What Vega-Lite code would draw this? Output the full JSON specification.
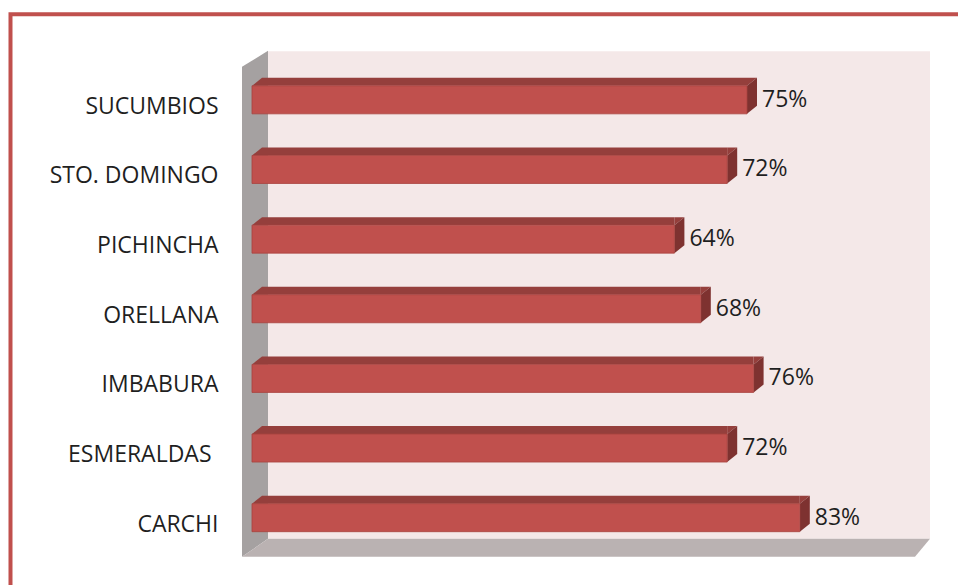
{
  "$schema": "https://vega.github.io/schema/vega-lite/v6.json",
  "width": 958,
  "height": 585,
  "padding": 0,
  "autosize": {"type": "none"},
  "background": "white",
  "config": {"view": {"stroke": null}},
  "data": {
    "values": [
      {"provincia": "SUCUMBIOS", "valor": 0.75},
      {"provincia": "STO. DOMINGO", "valor": 0.72},
      {"provincia": "PICHINCHA", "valor": 0.64},
      {"provincia": "ORELLANA", "valor": 0.68},
      {"provincia": "IMBABURA", "valor": 0.76},
      {"provincia": "ESMERALDAS", "valor": 0.72},
      {"provincia": "CARCHI", "valor": 0.83}
    ]
  },
  "layer": [
    {
      "data": {"values": [{}]},
      "mark": {"type": "point", "shape": "M16,-48.5 L678,-48.5 L678,439 L16,439 Z", "size": 4, "filled": true, "color": "#F4E8E8", "opacity": 1, "strokeWidth": 0},
      "encoding": {
        "x": {"datum": 0, "type": "quantitative", "scale": {"domain": [-0.381818, 1.069697], "nice": false, "zero": false}, "axis": null},
        "y": {"datum": "SUCUMBIOS", "type": "nominal", "scale": {"type": "band", "domain": ["SUCUMBIOS", "STO. DOMINGO", "PICHINCHA", "ORELLANA", "IMBABURA", "ESMERALDAS", "CARCHI"], "paddingInner": 0.6, "paddingOuter": 1.01875, "align": 0.6168}, "title": null}
      }
    },
    {
      "data": {"values": [{}]},
      "mark": {"type": "point", "shape": "M-10,-33 L16,-49 L16,439 L-10,457 Z", "size": 4, "filled": true, "color": "#A5A1A1", "opacity": 1, "strokeWidth": 0},
      "encoding": {
        "x": {"datum": 0, "type": "quantitative"},
        "y": {"datum": "SUCUMBIOS", "type": "nominal", "title": null}
      }
    },
    {
      "data": {"values": [{}]},
      "mark": {"type": "point", "shape": "M16,439 L678,439 L663,457 L-10,457 Z", "size": 4, "filled": true, "color": "#BAB2B2", "opacity": 1, "strokeWidth": 0},
      "encoding": {
        "x": {"datum": 0, "type": "quantitative"},
        "y": {"datum": "SUCUMBIOS", "type": "nominal", "title": null}
      }
    },
    {
      "data": {"values": [{}]},
      "mark": {"type": "point", "shape": "M-243.5,-87.5 L710,-87.5 L710,-83.5 L-239.5,-83.5 L-239.5,490 L-243.5,490 Z", "size": 4, "filled": true, "color": "#C0504D", "opacity": 1, "strokeWidth": 0},
      "encoding": {
        "x": {"datum": 0, "type": "quantitative"},
        "y": {"datum": "SUCUMBIOS", "type": "nominal", "title": null}
      }
    },
    {
      "mark": {"type": "bar", "height": 8, "yOffset": -18, "x2Offset": 10, "color": "#953F3C"},
      "encoding": {
        "x": {"field": "valor", "type": "quantitative"},
        "x2": {"datum": 0},
        "y": {"field": "provincia", "type": "nominal", "title": null, "axis": {"orient": "left", "offset": -228, "domain": false, "ticks": false, "tickSize": 0, "labelPadding": {"condition": {"test": "datum.value === 'ESMERALDAS'", "value": 17}, "value": 10}, "labelFont": "Open Sans", "labelFontSize": 23, "labelColor": "#1F1F1F", "labelLimit": 400, "labelOffset": 7, "grid": false, "title": null}}
      }
    },
    {
      "mark": {"type": "point", "shape": "M0,-14 L10,-22 L10,-14 Z", "size": 4, "filled": true, "color": "#953F3C", "opacity": 1, "strokeWidth": 0},
      "encoding": {
        "x": {"datum": 0, "type": "quantitative"},
        "y": {"field": "provincia", "type": "nominal", "title": null}
      }
    },
    {
      "mark": {"type": "point", "shape": "M0,-14 L10,-22 L0,-22 Z", "size": 4, "filled": true, "color": "#953F3C", "opacity": 1, "strokeWidth": 0},
      "encoding": {
        "x": {"field": "valor", "type": "quantitative"},
        "y": {"field": "provincia", "type": "nominal", "title": null}
      }
    },
    {
      "mark": {"type": "point", "shape": "M0,-14 L10,-22 L10,6 L0,14 Z", "size": 4, "filled": true, "color": "#7E3230", "opacity": 1, "strokeWidth": 0},
      "encoding": {
        "x": {"field": "valor", "type": "quantitative"},
        "y": {"field": "provincia", "type": "nominal", "title": null}
      }
    },
    {
      "mark": {"type": "bar", "height": 28, "color": "#C0504D", "stroke": "#A8433F", "strokeWidth": 0.8},
      "encoding": {
        "x": {"field": "valor", "type": "quantitative"},
        "y": {"field": "provincia", "type": "nominal", "title": null}
      }
    },
    {
      "mark": {"type": "text", "align": "left", "baseline": "middle", "dx": 15, "font": "Open Sans", "fontSize": 23, "color": "#1F1F1F"},
      "encoding": {
        "x": {"field": "valor", "type": "quantitative"},
        "y": {"field": "provincia", "type": "nominal", "title": null},
        "text": {"field": "valor", "type": "quantitative", "format": ".0%"}
      }
    }
  ]
}
